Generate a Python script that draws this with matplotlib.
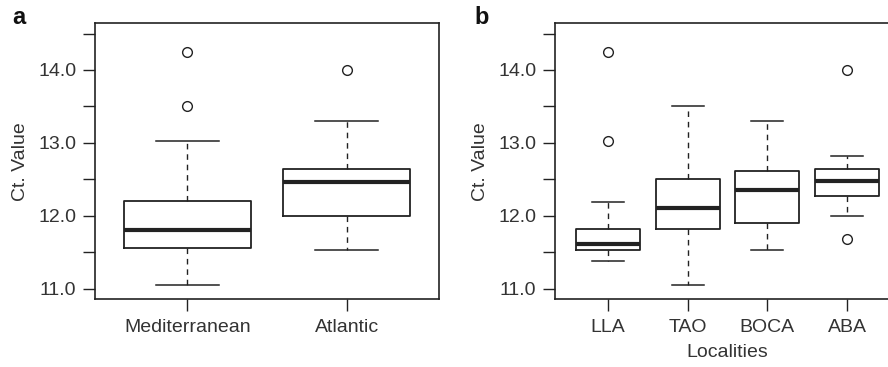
import matplotlib
matplotlib.use("Agg")
import matplotlib.pyplot as plt

plt.rcParams['font.family'] = ['Liberation Sans', 'DejaVu Sans']

# panel a: regions
regions = ["Mediterranean", "Atlantic"]
reg_low = [11.05, 11.535]
reg_q1 = [11.56, 12.00]
reg_med = [11.81, 12.47]
reg_q3 = [12.21, 12.64]
reg_high = [13.02, 13.30]
reg_out = [[13.51, 14.24], [14.00]]

# panel b: localities
places = ["LLA", "TAO", "BOCA", "ABA"]
loc_low = [11.376, 11.05, 11.535, 12.00]
loc_q1 = [11.527, 11.82, 11.90, 12.276]
loc_med = [11.617, 12.11, 12.35, 12.48]
loc_q3 = [11.815, 12.50, 12.62, 12.646]
loc_high = [12.19, 13.51, 13.30, 12.816]
loc_out = [[13.02, 14.24], [], [], [11.68, 14.00]]

yticks = [11.0, 11.5, 12.0, 12.5, 13.0, 13.5, 14.0, 14.5]
ylabels = ["11.0", "", "12.0", "", "13.0", "", "14.0", ""]

line_c = "#222222"
text_c = "#333333"


def make_stats(low, q1, med, q3, high, out):
    stats = []
    for i in range(len(med)):
        stats.append(dict(whislo=low[i], q1=q1[i], med=med[i], q3=q3[i],
                          whishi=high[i], fliers=out[i]))
    return stats


def draw_panel(ax, stats, names, xlim, xlab=None):
    ax.bxp(stats, positions=range(1, len(stats) + 1), widths=0.8,
           showfliers=True, patch_artist=False,
           boxprops=dict(color=line_c, linewidth=1.3),
           medianprops=dict(color=line_c, linewidth=3.0, solid_capstyle='butt'),
           whiskerprops=dict(color=line_c, linewidth=1.0, linestyle=(0, (4, 3.5))),
           capprops=dict(color=line_c, linewidth=1.1),
           capwidths=0.4,
           flierprops=dict(marker='o', markersize=7, markerfacecolor='none',
                           markeredgecolor=line_c, markeredgewidth=1.0))
    ax.set_xlim(*xlim)
    ax.set_ylim(10.86, 14.64)
    ax.set_yticks(yticks)
    ax.set_yticklabels(ylabels)
    ax.set_xticks(range(1, len(names) + 1))
    ax.set_xticklabels(names)
    ax.tick_params(direction='out', length=8.4, width=1.0, colors=line_c,
                   labelcolor=text_c, labelsize=14, pad=5)
    ax.tick_params(axis='x', pad=6)
    for s in ax.spines.values():
        s.set_color(line_c)
        s.set_linewidth(1.2)
    ax.set_ylabel("Ct. Value", fontsize=14, color=text_c, labelpad=7)
    if xlab:
        ax.set_xlabel(xlab, fontsize=14, color=text_c, labelpad=6)


fig = plt.figure(figsize=(8.88, 3.67), dpi=100)
ax1 = fig.add_axes([95 / 888, 68 / 367, 344 / 888, 275.7 / 367])
ax2 = fig.add_axes([555 / 888, 68 / 367, 345 / 888, 275.7 / 367])

draw_panel(ax1, make_stats(reg_low, reg_q1, reg_med, reg_q3, reg_high, reg_out),
           regions, (0.42, 2.58))
draw_panel(ax2, make_stats(loc_low, loc_q1, loc_med, loc_q3, loc_high, loc_out),
           places, (0.34, 4.66), xlab="Localities")

fig.text(12 / 888, 1 - 24 / 367, "a", fontsize=17, fontweight='bold', color="#111111")
fig.text(474 / 888, 1 - 24 / 367, "b", fontsize=17, fontweight='bold', color="#111111")

fig.savefig("out.png", dpi=100)
